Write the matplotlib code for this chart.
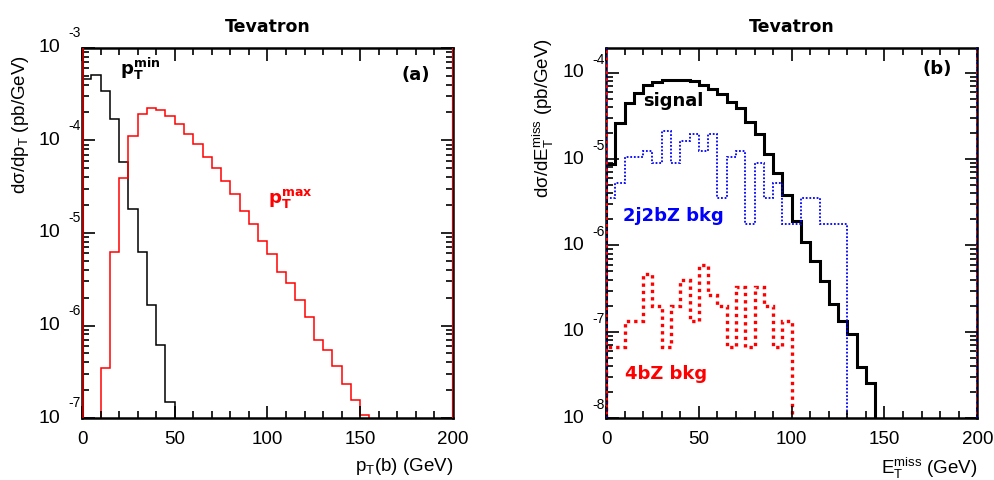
import numpy as np
import matplotlib.pyplot as plt
from matplotlib.ticker import MultipleLocator, LogLocator, NullFormatter

plt.rcParams['font.family'] = ['Liberation Sans', 'DejaVu Sans']
plt.rcParams['mathtext.fontset'] = 'custom'
plt.rcParams['mathtext.rm'] = 'Liberation Sans'
plt.rcParams['mathtext.it'] = 'Liberation Sans:italic'
plt.rcParams['mathtext.bf'] = 'DejaVu Sans:bold'
plt.rcParams['mathtext.default'] = 'rm'

# (a) b-quark transverse momentum, 5 GeV bins
ptmin_edges = np.arange(0, 55, 5)
ptmin = [4.56e-4, 5.12e-4, 3.43e-4, 1.69e-4, 5.8e-5, 1.81e-5, 6.25e-6,
         1.68e-6, 6.1e-7, 1.51e-7]
ptmax_edges = np.arange(10, 160, 5)
ptmax = [3.48e-7, 6.21e-6, 3.96e-5, 1.12e-4, 1.91e-4, 2.25e-4, 2.14e-4,
         1.82e-4, 1.50e-4, 1.18e-4, 9.03e-5, 6.67e-5, 5.01e-5, 3.65e-5,
         2.64e-5, 1.73e-5, 1.24e-5, 8.28e-6, 5.95e-6, 3.80e-6, 2.87e-6,
         1.87e-6, 1.24e-6, 6.91e-7, 5.38e-7, 3.68e-7, 2.35e-7, 1.56e-7,
         1.08e-7]

# (b) missing transverse energy, 5 GeV bins
signal_edges = np.arange(0, 150, 5)
signal = [8.83e-6, 2.61e-5, 4.49e-5, 5.86e-5, 7.13e-5, 7.78e-5, 8.15e-5,
          8.36e-5, 8.15e-5, 7.93e-5, 7.31e-5, 6.53e-5, 5.71e-5, 4.56e-5,
          3.86e-5, 2.66e-5, 1.93e-5, 1.16e-5, 6.87e-6, 3.86e-6, 1.94e-6,
          1.11e-6, 6.68e-7, 3.92e-7, 2.10e-7, 1.35e-7, 9.45e-8, 3.88e-8,
          2.56e-8]
bkg2j_edges = np.arange(0, 135, 5)
bkg2j = [3.56e-6, 5.34e-6, 1.07e-5, 1.07e-5, 1.25e-5, 8.9e-6, 2.14e-5,
         8.9e-6, 1.6e-5, 1.96e-5, 1.25e-5, 1.96e-5, 3.56e-6, 1.07e-5,
         1.25e-5, 1.78e-6, 8.9e-6, 3.56e-6, 5.34e-6, 1.78e-6, 1.78e-6,
         3.56e-6, 3.56e-6, 1.78e-6, 1.78e-6, 1.78e-6]
bkg4b_edges = np.arange(0, 105, 5)
bkg4b = [6.6e-8, 6.6e-8, 1.32e-7, 1.32e-7, 4.62e-7, 1.98e-7, 6.6e-8,
         1.98e-7, 3.96e-7, 1.32e-7, 5.94e-7, 2.64e-7, 1.98e-7, 6.6e-8,
         3.3e-7, 6.6e-8, 3.3e-7, 1.98e-7, 6.6e-8, 1.32e-7]

fig = plt.figure(figsize=(9.94, 4.8), dpi=100)
ax1 = fig.add_axes([0.0825, 0.129, 0.3732, 0.7715])
ax2 = fig.add_axes([0.6097, 0.129, 0.3735, 0.7715])

ann = dict(fontfamily='DejaVu Sans', fontweight='bold', fontsize=13)


def style(ax, ymin, ymax, lo, hi, xlab, up):
    ax.set_xlim(0, 200)
    ax.set_yscale('log')
    ax.set_ylim(ymin, ymax)
    ax.xaxis.set_major_locator(MultipleLocator(50))
    ax.xaxis.set_minor_locator(MultipleLocator(10))
    ax.yaxis.set_major_locator(LogLocator(base=10))
    ax.yaxis.set_minor_locator(LogLocator(base=10, subs=np.arange(2, 10)))
    ax.yaxis.set_minor_formatter(NullFormatter())
    ax.tick_params(which='both', direction='in', top=True, right=True,
                   labelleft=False, labelsize=13.5, pad=9, width=1.2)
    ax.tick_params(which='major', length=9)
    ax.tick_params(which='minor', length=5)
    for s in ax.spines.values():
        s.set_linewidth(1.8)
    ax.set_xlabel(xlab, loc='right', fontsize=13.5, labelpad=6)
    ax.set_title('Tevatron', pad=11, fontfamily='DejaVu Sans',
                 fontweight='bold', fontsize=12.5)
    # ROOT style decade labels: "10" with the exponent placed above right
    for k in range(lo, hi + 1):
        ax.annotate('10', xy=(0, 10.0 ** k), xycoords=('axes fraction', 'data'),
                    xytext=(-16, 0), textcoords='offset points',
                    ha='right', va='center', fontsize=14, annotation_clip=False)
        ax.annotate('%d' % k, xy=(0, 10.0 ** k), xycoords=('axes fraction', 'data'),
                    xytext=(-1, up), textcoords='offset points',
                    ha='right', va='center', fontsize=10, annotation_clip=False)


# ---- panel (a)
ax1.stairs(ptmin, ptmin_edges, baseline=1e-7, color='black', lw=1.1)
ax1.stairs(ptmax, ptmax_edges, baseline=1e-7, color='red', lw=1.1)
ax1.axvline(0, color='#b00000', lw=2.2, zorder=3)
ax1.axvline(200, color='#e00000', lw=1.6, zorder=3)
style(ax1, 1e-7, 1e-3, -7, -3, r'p$_\mathrm{T}$(b) (GeV)', 10.5)
ax1.text(20.5, 5.9e-4, r'$\mathbf{p_T^{min}}$', ha='left', va='center', color='black', **ann)
ax1.text(100.4, 2.36e-5, r'$\mathbf{p_T^{max}}$', ha='left', va='center', color='red', **ann)
ax1.text(179.7, 5.07e-4, '(a)', ha='center', va='center', color='black', **ann)
fig.text(0.021, 0.885, r'd$\sigma$/dp$_\mathrm{T}$ (pb/GeV)', rotation=90,
         ha='center', va='top', fontsize=13.5)

# ---- panel (b)
ax2.stairs(signal, signal_edges, baseline=1e-8, color='black', lw=2.2)
ax2.stairs(bkg2j, bkg2j_edges, baseline=1e-8, color='blue', lw=1.3,
           linestyle=(0, (1, 1)))
ax2.stairs(bkg4b, bkg4b_edges, baseline=1e-8, color='red', lw=2.4,
           linestyle=(0, (1, 1.2)))
for xv in (0, 200):
    ax2.axvline(xv, color='blue', lw=1.3, ls=(0, (1, 1)), zorder=3)
    ax2.axvline(xv, color='red', lw=2.0, ls=(1, (1, 1.5)), zorder=3)
style(ax2, 1e-8, 1.95e-4, -8, -4, r'E$_\mathrm{T}^\mathrm{miss}$ (GeV)', 9.5)
ax2.text(19.9, 4.7e-5, 'signal', ha='left', va='center', color='black', **ann)
ax2.text(9.2, 2.22e-6, '2j2bZ bkg', ha='left', va='center', color='blue', **ann)
ax2.text(10.2, 3.28e-8, '4bZ bkg', ha='left', va='center', color='red', **ann)
ax2.text(178.2, 1.12e-4, '(b)', ha='center', va='center', color='black', **ann)
fig.text(0.547, 0.921, r'd$\sigma$/dE$_\mathrm{T}^\mathrm{miss}$ (pb/GeV)', rotation=90,
         ha='center', va='top', fontsize=13.5)

fig.savefig('out.png', dpi=100)
